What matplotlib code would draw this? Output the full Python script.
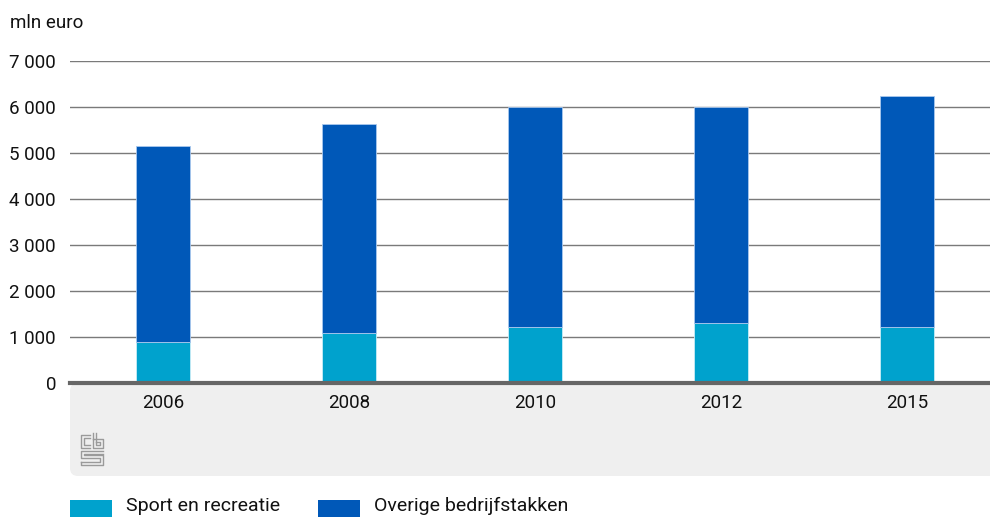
import matplotlib
matplotlib.use("Agg")
import matplotlib.pyplot as plt
from matplotlib.patches import Rectangle, FancyBboxPatch
from matplotlib.lines import Line2D
import numpy as np

plt.rcParams['font.family'] = ['Roboto', 'DejaVu Sans']

years = ["2006", "2008", "2010", "2012", "2015"]
sport = [900, 1080, 1220, 1300, 1220]
overige = [4250, 4540, 4770, 4710, 5010]
series_names = ["Sport en recreatie", "Overige bedrijfstakken"]
yticks = [0, 1000, 2000, 3000, 4000, 5000, 6000, 7000]
ytick_labels = ["0", "1 000", "2 000", "3 000", "4 000", "5 000", "6 000", "7 000"]
ylabel = "mln euro"

c_light = "#00a2cd"
c_dark = "#0058b8"

W, H = 990, 517
fig = plt.figure(figsize=(9.9, 5.17), dpi=100)
px = fig.dpi_scale_trans  # inches; 1 px = 0.01 in

def P(v):
    return v / 100.0

# gray background band below the axis (pixel coords, origin bottom-left)
r = 8
band = FancyBboxPatch((P(70 + r), P(H - 476 + r)), P(990 - 70 - 2 * r + 20), P(476 - 383 - 2 * r),
                      boxstyle=f"round,pad={P(r)},rounding_size={P(r)}",
                      transform=px, facecolor="#efefef", edgecolor="none", zorder=-10)
fig.patches.append(band)

ax = fig.add_axes([70 / W, 1 - 383 / H, (990 - 70) / W, (383 - 61) / H])
ax.set_facecolor("none")
x = np.arange(len(years))
bw = 0.29
ax.bar(x, sport, width=bw, color=c_light, edgecolor="#c8ecf6", linewidth=0.6, zorder=3)
ax.bar(x, overige, width=bw, bottom=sport, color=c_dark, edgecolor="#a9c8ee", linewidth=0.6, zorder=3)

ax.set_xlim(-0.5, 4.446)
ax.set_ylim(0, 7000)
ax.set_yticks(yticks)
ax.set_yticklabels(ytick_labels)
ax.set_xticks(x)
ax.set_xticklabels(years)
ax.tick_params(axis='y', length=0, pad=10, labelsize=13.5, labelcolor="#111111")
ax.tick_params(axis='x', length=0, pad=8, labelsize=13.5, labelcolor="#111111")
for yv in yticks[1:]:
    ax.axhline(yv, color="#7a7a7a", linewidth=1.0, zorder=1)
for s in ["top", "right", "left"]:
    ax.spines[s].set_visible(False)
ax.spines["bottom"].set_color("#666666")
ax.spines["bottom"].set_linewidth(3)
ax.spines["bottom"].set_zorder(4)

fig.text(10 / W, 1 - 23 / H, ylabel, fontsize=13.5, color="#111111", va="center", ha="left")

# cbs logo (approximation)
lc = "#9a9a9a"
def L(xs, ys):
    fig.lines.append(Line2D([v / W for v in xs], [1 - v / H for v in ys], color=lc, lw=1.0,
                            transform=fig.transFigure))
# c
L([90, 81, 81, 90], [435, 435, 448, 448])
L([90, 84, 84, 90], [438, 438, 445, 445])
# b
L([93, 93, 103, 103, 93], [433, 448, 448, 439, 439])
L([96, 96, 100, 100, 96], [433, 445, 445, 442, 442])
# s
L([103, 81, 81, 100, 100, 81], [451, 451, 458, 458, 462, 462])
L([103, 84, 84, 103, 103, 81, 81], [454, 454, 455, 455, 465, 465, 462])

# legend
for i, (name, col) in enumerate(zip(series_names, [c_light, c_dark])):
    x0 = [70, 318][i]
    fig.patches.append(Rectangle((x0 / W, 0), 42 / W, (517 - 500) / H, transform=fig.transFigure,
                                 facecolor=col, edgecolor="none"))
    fig.text((x0 + 56) / W, 1 - 506 / H, name, fontsize=14, color="#111111", va="center", ha="left")

fig.savefig("out.png", dpi=100)
